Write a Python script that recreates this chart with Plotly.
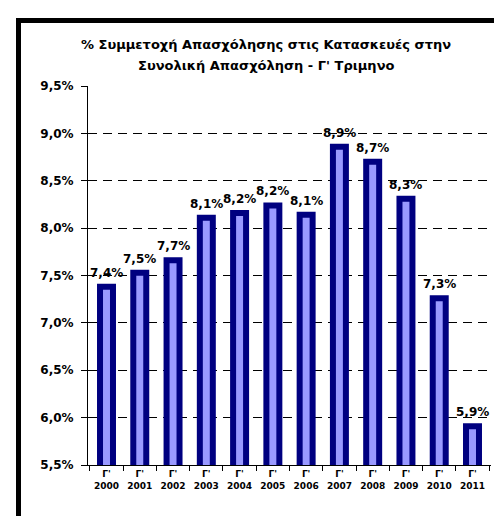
import plotly.graph_objects as go

years = ["2000", "2001", "2002", "2003", "2004", "2005", "2006", "2007", "2008", "2009", "2010", "2011"]
quarter = "Γ'"
values = [7.38, 7.53, 7.66, 8.11, 8.16, 8.24, 8.14, 8.86, 8.70, 8.31, 7.26, 5.91]
y_ticks = [5.5, 6.0, 6.5, 7.0, 7.5, 8.0, 8.5, 9.0, 9.5]
title_lines = ["% Συμμετοχή Απασχόλησης στις Κατασκευές στην", "Συνολική Απασχόληση - Γ' Τριμηνο"]

FONT = "DejaVu Sans"
W, H = 502, 516
ML, MR, MT, MB = 80, 19, 78, 59
pw, ph = W - ML - MR, H - MT - MB

def px_x(x):
    return (x - ML) / pw

def px_y(y):
    return (H - MB - y) / ph

def pct(v):
    return f"{v:.1f}".replace(".", ",") + "%"

labels = [f"{quarter}<br>{y}" for y in years]

fig = go.Figure()
fig.add_trace(go.Bar(
    x=labels, y=values,
    marker=dict(color="#9999FF", line=dict(color="#000080", width=6)),
    width=0.39,
    hoverinfo="skip",
))

annotations = []
for lab, v in zip(labels, values):
    annotations.append(dict(
        x=lab, y=v, xref="x", yref="y",
        text=pct(v),
        showarrow=False, yanchor="bottom", yshift=5,
        font=dict(family=FONT, size=12, color="black", weight="bold"),
    ))
annotations.append(dict(
    x=px_x(258), y=px_y(37), xref="paper", yref="paper",
    text=title_lines[0], showarrow=False, yanchor="middle", xanchor="center",
    font=dict(family=FONT, size=13, color="black", weight="bold"),
))
annotations.append(dict(
    x=px_x(258), y=px_y(57), xref="paper", yref="paper",
    text=title_lines[1], showarrow=False, yanchor="middle", xanchor="center",
    font=dict(family=FONT, size=13, color="black", weight="bold"),
))

shapes = [
    dict(type="rect", xref="paper", yref="paper", x0=px_x(8), x1=px_x(505),
         y0=px_y(10), y1=px_y(15), fillcolor="black", line=dict(width=0), layer="above"),
    dict(type="rect", xref="paper", yref="paper", x0=px_x(8), x1=px_x(13),
         y0=px_y(10), y1=px_y(516), fillcolor="black", line=dict(width=0), layer="above"),
    dict(type="rect", xref="paper", yref="paper", x0=px_x(8), x1=px_x(505),
         y0=px_y(514), y1=px_y(517), fillcolor="black", line=dict(width=0), layer="above"),
]

fig.update_layout(
    width=W, height=H,
    margin=dict(l=ML, r=MR, t=MT, b=MB, pad=0),
    paper_bgcolor="white", plot_bgcolor="white",
    showlegend=False,
    annotations=annotations,
    shapes=shapes,
    font=dict(family=FONT, size=11, color="black"),
    xaxis=dict(
        type="category",
        showline=True, linecolor="black", linewidth=1,
        ticks="outside", tickson="boundaries", ticklen=5, tickcolor="black",
        tickfont=dict(family=FONT, size=9, color="black", weight="bold"),
        tickangle=0,
        showgrid=False,
    ),
    yaxis=dict(
        range=[5.5, 9.5],
        tickvals=y_ticks,
        ticktext=[pct(t) for t in y_ticks],
        showline=True, linecolor="black", linewidth=1,
        ticks="outside", ticklen=6, tickcolor="black",
        tickfont=dict(family=FONT, size=12, color="black", weight="bold"),
        ticklabelstandoff=5,
        showgrid=True, gridcolor="black", gridwidth=1, griddash="9px,6px",
        zeroline=False,
    ),
)

fig.write_html("out.html")
